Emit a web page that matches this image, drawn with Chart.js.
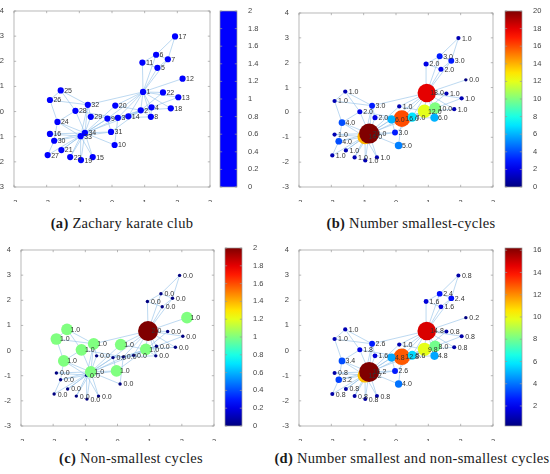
<!DOCTYPE html>
<html>
<head>
<meta charset="utf-8">
<script src="https://cdn.jsdelivr.net/npm/chart.js@4.4.1/dist/chart.umd.min.js"></script>
<style>
  body { margin: 0; background: #fff; width: 550px; height: 474px; overflow: hidden; position: relative; }
  canvas { position: absolute; }
  .cap { position: absolute; font-family: "Liberation Serif", "Times New Roman", serif; font-size: 14.5px;
         letter-spacing: 0.3px; color: #1a1a1a; white-space: nowrap; transform: translateX(-50%); }
</style>
</head>
<body>
<canvas id="chartA"></canvas><canvas id="barA"></canvas>
<canvas id="chartB"></canvas><canvas id="barB"></canvas>
<canvas id="chartC"></canvas><canvas id="barC"></canvas>
<canvas id="chartD"></canvas><canvas id="barD"></canvas>
<div class="cap" style="left:122px; top:215px;"><b>(a)</b> Zachary karate club</div>
<div class="cap" style="left:411px; top:215px;"><b>(b)</b> Number smallest-cycles</div>
<div class="cap" style="left:131px; top:450px;"><b>(c)</b> Non-smallest cycles</div>
<div class="cap" style="left:412px; top:450px;"><b>(d)</b> Number smallest and non-smallest cycles</div>
<script>
// node layout (nodes 1..34)
var nodeX = [0.95, 0.88, 0.18, 1.21, 1.39, 1.35, 1.71, 1.19, -0.14, 0.08, 0.93, 2.16, 2.03, 0.50, -0.59, -1.90, 1.93,
             1.80, -0.95, 0.10, -1.55, 1.56, -1.28, -1.67, -1.57, -1.90, -1.97, -1.12, -0.65, -1.77, -0.03, -0.74, -0.96, -0.83];
var nodeY = [0.78, 0.05, -0.25, 0.17, 1.74, 2.26, 2.08, -0.21, -0.28, -1.33, 1.95, 1.31, 0.57, -0.19, -1.81, -0.89, 2.99,
             0.13, -1.93, 0.24, -1.53, 0.76, -1.81, -0.41, 0.84, 0.46, -1.73, 0.03, -0.21, -1.16, -0.81, 0.27, -0.98, -0.85];

// karate club edges
var edgeFrom = [1,1,1,1,1,1,1,1,1,1,1,1,1,1,1,1, 2,2,2,2,2,2,2,2, 3,3,3,3,3,3,3,3, 4,4,4, 5,5, 6,6,6, 7, 9,9,9, 10, 14,
                15,15, 16,16, 19,19, 20, 21,21, 23,23, 24,24,24,24,24, 25,25,25, 26, 27,27, 28, 29,29, 30,30, 31,31, 32,32, 33];
var edgeTo   = [2,3,4,5,6,7,8,9,11,12,13,14,18,20,22,32, 3,4,8,14,18,20,22,31, 4,8,9,10,14,28,29,33, 8,13,14, 7,11, 7,11,17, 17, 31,33,34, 34, 34,
                33,34, 33,34, 33,34, 34, 33,34, 33,34, 26,28,30,33,34, 26,28,32, 32, 30,34, 34, 32,34, 33,34, 33,34, 33,34, 34];

var smallestCycles = [18, 12, 16, 10, 2, 3, 3, 6, 6, 5, 2, 0, 1, 7, 1, 1, 1, 1, 1, 1, 1, 1, 1, 4, 1, 1, 1, 2, 2, 4, 3, 3, 14, 20];
var nonSmallestCycles = [2, 1, 0, 0, 0, 0, 0, 0, 0, 0, 0, 1, 0, 0, 0, 0, 0, 0, 0, 1, 0, 0, 0, 1, 1, 1, 0, 1, 0, 0, 1, 1, 0, 1];
var combinedCycles = [14.8, 9.8, 12.8, 8.0, 1.6, 2.4, 2.4, 4.8, 4.8, 4.0, 1.6, 0.2, 0.8, 5.6, 0.8, 0.8, 0.8, 0.8, 0.8, 1.0,
                      0.8, 0.8, 0.8, 3.4, 1.0, 1.0, 0.8, 1.8, 1.6, 3.2, 2.6, 2.6, 11.2, 16.2];

var barTicksA = [0, 0.2, 0.4, 0.6, 0.8, 1, 1.2, 1.4, 1.6, 1.8, 2];
var barTicksB = [0, 2, 4, 6, 8, 10, 12, 14, 16, 18, 20];
var barTicksC = [0, 0.2, 0.4, 0.6, 0.8, 1, 1.2, 1.4, 1.6, 1.8, 2];
var barTicksD = [2, 4, 6, 8, 10, 12, 14, 16];

var tickFont = { family: '"Liberation Sans", Arial, sans-serif', size: 7.5 };
var tickColor = '#444';
var edgeColor = 'rgba(150,195,232,0.9)';

function jet(t) {
  t = Math.min(1, Math.max(0, t));
  var r = Math.min(1, Math.max(0, 1.5 - Math.abs(4 * t - 3)));
  var g = Math.min(1, Math.max(0, 1.5 - Math.abs(4 * t - 2)));
  var b = Math.min(1, Math.max(0, 1.5 - Math.abs(4 * t - 1)));
  return 'rgb(' + Math.round(r * 255) + ',' + Math.round(g * 255) + ',' + Math.round(b * 255) + ')';
}

// axes box + inward ticks like matlab
var boxPlugin = {
  id: 'box',
  afterDraw: function(chart) {
    var a = chart.chartArea, c = chart.ctx, t = 2.2;
    c.save();
    c.strokeStyle = '#9a9a9a';
    c.lineWidth = 0.7;
    c.beginPath();
    Object.keys(chart.scales).forEach(function(k) {
      var s = chart.scales[k];
      if (!s.options.display) return;
      s.ticks.forEach(function(tk) {
        var p = s.getPixelForValue(tk.value);
        if (s.isHorizontal()) {
          c.moveTo(p, a.bottom); c.lineTo(p, a.bottom - t);
          c.moveTo(p, a.top); c.lineTo(p, a.top + t);
        } else {
          c.moveTo(a.left, p); c.lineTo(a.left + t, p);
          c.moveTo(a.right, p); c.lineTo(a.right - t, p);
        }
      });
    });
    c.stroke();
    c.strokeRect(a.left, a.top, a.right - a.left, a.bottom - a.top);
    c.restore();
  }
};

// value / id text to the right of each node
var labelPlugin = {
  id: 'nodeText',
  afterDatasetsDraw: function(chart) {
    var ds = chart.data.datasets[0];
    var meta = chart.getDatasetMeta(0);
    var c = chart.ctx;
    c.save();
    c.font = '7px "Liberation Sans", Arial, sans-serif';
    c.fillStyle = '#333';
    c.textBaseline = 'middle';
    meta.data.forEach(function(pt, i) {
      c.fillText(ds.nodeText[i], pt.x + 3.5, pt.y + 0.5);
    });
    c.restore();
  }
};

function makePanel(id, plot, values, vmin, vmax, texts, fixedColor, barTicks) {
  var yw = 18, pt = 8, pr = 8, xh = 15;
  var cv = document.getElementById('chart' + id);
  cv.width = yw + plot.w + pr;
  cv.height = pt + plot.h + xh;
  cv.style.left = (plot.l - yw) + 'px';
  cv.style.top = (plot.t - pt) + 'px';

  var nodes = nodeX.map(function(x, i) { return { x: x, y: nodeY[i] }; });
  var edges = [];
  for (var i = 0; i < edgeFrom.length; i++) {
    edges.push({ x: nodeX[edgeFrom[i] - 1], y: nodeY[edgeFrom[i] - 1] });
    edges.push({ x: nodeX[edgeTo[i] - 1], y: nodeY[edgeTo[i] - 1] });
    edges.push({ x: null, y: null });
  }
  function frac(i) { return values ? (values[i] - vmin) / (vmax - vmin) : 0; }

  new Chart(cv, {
    type: 'scatter',
    data: {
      datasets: [{
        data: nodes,
        order: 0,
        nodeText: texts,
        pointRadius: function(ctx) { return values ? 1.7 + 8.3 * frac(ctx.dataIndex) : 3.1; },
        pointBackgroundColor: function(ctx) { return fixedColor || jet(frac(ctx.dataIndex)); },
        pointBorderWidth: 0
      }, {
        data: edges,
        order: 1,
        showLine: true,
        spanGaps: false,
        borderColor: edgeColor,
        borderWidth: 0.7,
        pointRadius: 0
      }]
    },
    options: {
      responsive: false,
      animation: false,
      events: [],
      layout: { padding: { top: pt, right: pr, left: 0, bottom: 0 } },
      plugins: { legend: { display: false }, tooltip: { enabled: false } },
      scales: {
        x: {
          min: -3, max: 3,
          ticks: { stepSize: 1, font: tickFont, color: tickColor, padding: 3, maxRotation: 0 },
          grid: { display: false }, border: { display: false },
          afterFit: function(s) { s.height = xh; }
        },
        y: {
          min: -3, max: 4,
          ticks: { stepSize: 1, font: tickFont, color: tickColor, padding: 2 },
          grid: { display: false }, border: { display: false },
          afterFit: function(s) { s.width = yw; }
        }
      }
    },
    plugins: [boxPlugin, labelPlugin]
  });

  // colorbar
  var bw = 17, lw = 30;
  var bc = document.getElementById('bar' + id);
  bc.width = 1 + bw + lw;
  bc.height = pt + plot.h + pt;
  bc.style.left = (plot.cb - 1) + 'px';
  bc.style.top = (plot.t - pt) + 'px';
  new Chart(bc, {
    type: 'bar',
    data: {
      labels: [''],
      datasets: [{
        data: [[vmin, vmax]],
        barPercentage: 1,
        categoryPercentage: 1,
        borderWidth: 0,
        backgroundColor: function(ctx) {
          var ca = ctx.chart.chartArea;
          if (fixedColor || !ca) return fixedColor || 'blue';
          var g = ctx.chart.ctx.createLinearGradient(0, ca.bottom, 0, ca.top);
          for (var s = 0; s <= 20; s++) g.addColorStop(s / 20, jet(s / 20));
          return g;
        }
      }]
    },
    options: {
      responsive: false,
      animation: false,
      events: [],
      layout: { padding: { top: pt, bottom: pt, left: 1, right: 0 } },
      plugins: { legend: { display: false }, tooltip: { enabled: false } },
      scales: {
        x: { display: false },
        y: {
          position: 'right',
          min: vmin, max: vmax,
          ticks: {
            font: tickFont, color: tickColor, padding: 3,
            callback: function(v) { return String(Math.round(v * 10) / 10); }
          },
          grid: { display: false }, border: { display: false },
          afterBuildTicks: function(s) { s.ticks = barTicks.map(function(v) { return { value: v }; }); },
          afterFit: function(s) { s.width = lw; }
        }
      }
    },
    plugins: [boxPlugin]
  });
}

var nodeIds = nodeX.map(function(x, i) { return String(i + 1); });
function fmt(arr) { return arr.map(function(v) { return v.toFixed(1); }); }

makePanel('A', { l: 14, t: 11, w: 196, h: 176, cb: 220 }, null, 0, 2, nodeIds, '#0000ff', barTicksA);
makePanel('B', { l: 299, t: 11, w: 196, h: 176, cb: 505 }, smallestCycles, 0, 20, fmt(smallestCycles), null, barTicksB);
makePanel('C', { l: 21, t: 248, w: 195, h: 178, cb: 225 }, nonSmallestCycles, 0, 2, fmt(nonSmallestCycles), null, barTicksC);
makePanel('D', { l: 299, t: 248, w: 196, h: 178, cb: 505 }, combinedCycles, 0.2, 16.2, fmt(combinedCycles), null, barTicksD);
</script>
</body>
</html>
